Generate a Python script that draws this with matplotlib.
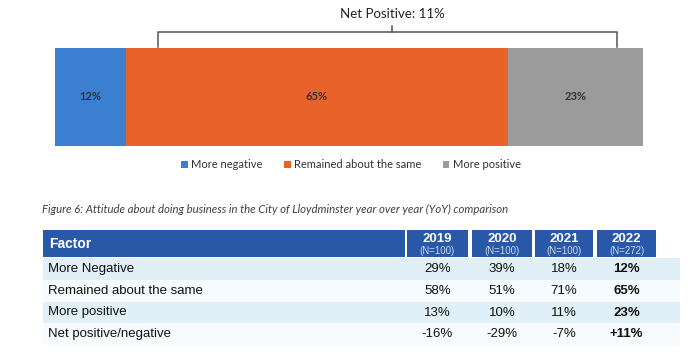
import numpy as np
import matplotlib
matplotlib.use("Agg")
import matplotlib.pyplot as plt
from matplotlib.patches import Rectangle, Patch
import matplotlib.transforms as mtransforms

# =========================
# data
# =========================
segments = ["More negative", "Remained about the same", "More positive"]
shares_2022 = [12, 65, 23]
seg_colors = ["#3b7fd1", "#e9622a", "#9b9b9b"]

years = ["2019", "2020", "2021", "2022"]
sample_sizes = ["(N=100)", "(N=100)", "(N=100)", "(N=272)"]
factors = ["More Negative", "Remained about the same", "More positive", "Net positive/negative"]
more_negative = [29, 39, 18, 12]
same = [58, 51, 71, 65]
more_positive = [13, 10, 11, 23]

caption = ("Figure 6: Attitude about doing business in the City of Lloydminster "
           "year over year (YoY) comparison")

W, H = 698, 357
fig = plt.figure(figsize=(W / 100, H / 100), dpi=100)


def px_rect(x0, y0, x1, y1):
    return [x0 / W, 1 - y1 / H, (x1 - x0) / W, (y1 - y0) / H]


# =========================
# table (pixel coordinates)
# =========================
ax_t = fig.add_axes([0, 0, 1, 1])
ax_t.set_xlim(0, W)
ax_t.set_ylim(H, 0)
ax_t.axis("off")

header_blue = "#2a58a8"
head_top, head_bot = 230, 257
factor_box = (43, 405)
year_boxes = [(407, 468), (472, 532), (535, 593), (597, 656)]
row_top, row_h = 258, 21.8
tfont = "Liberation Sans"

ax_t.add_patch(Rectangle((factor_box[0], head_top), factor_box[1] - factor_box[0],
                         head_bot - head_top, color=header_blue, lw=0))
ax_t.text(49, (head_top + head_bot) / 2 + 0.5, "Factor", color="white", fontsize=10,
          fontweight="bold", family=tfont, va="center", ha="left")
for (x0, x1), yr, n in zip(year_boxes, years, sample_sizes):
    ax_t.add_patch(Rectangle((x0, head_top), x1 - x0, head_bot - head_top,
                             color=header_blue, lw=0))
    xc = (x0 + x1) / 2
    ax_t.text(xc, 238.5, yr, color="white", fontsize=9.5, fontweight="bold",
              family=tfont, ha="center", va="center")
    ax_t.text(xc, 251, n, color="#c9d8f0", fontsize=7, family=tfont,
              ha="center", va="center")

net = [p - n for p, n in zip(more_positive, more_negative)]
rows = [more_negative, same, more_positive, net]
for i, (name, vals) in enumerate(zip(factors, rows)):
    y0 = row_top + i * row_h
    shade = "#e0eff8" if i % 2 == 0 else "#f7fbfd"
    ax_t.add_patch(Rectangle((43, y0), 680 - 43, row_h, color=shade, lw=0))
    yc = y0 + row_h / 2
    ax_t.text(48, yc, name, color="#111111", fontsize=9.5, family=tfont,
              ha="left", va="center")
    for j, ((x0, x1), v) in enumerate(zip(year_boxes, vals)):
        if i == 3:
            s = f"+{v}%" if (v > 0 and j == 3) else f"{v}%"
        else:
            s = f"{v}%"
        ax_t.text((x0 + x1) / 2, yc, s, color="#111111", fontsize=9.5, family=tfont,
                  ha="center", va="center",
                  fontweight="bold" if j == 3 else "normal")

ax_t.text(42, 209, caption, fontsize=8.2, style="italic", family="Lato",
          color="#404040", ha="left", va="center")

# =========================
# stacked bar (2022)
# =========================
ax_b = fig.add_axes(px_rect(55, 48, 643, 146))
lefts = np.concatenate([[0], np.cumsum(shares_2022)[:-1]])
ax_b.barh(0, shares_2022, left=lefts, height=1, color=seg_colors, lw=0)
ax_b.set_xlim(0, 100)
ax_b.set_ylim(-0.5, 0.5)
ax_b.axis("off")
for l, s in zip(lefts, shares_2022):
    ax_b.text(l + s / 2, 0, f"{s}%", fontsize=8, fontweight="bold", family="Lato",
              color="#333333", ha="center", va="center")

# bracket for net positive
tr = mtransforms.blended_transform_factory(ax_b.transData, ax_b.transAxes)
bx0, bx1, bxc = 17.5, 95.6, 57.3
ax_b.plot([bx0, bx0, bx1, bx1], [1.01, 1.163, 1.163, 1.01], color="#555555",
          lw=1.1, transform=tr, clip_on=False)
ax_b.plot([bxc, bxc], [1.163, 1.22], color="#555555", lw=1.1, transform=tr,
          clip_on=False)
net_2022 = shares_2022[2] - shares_2022[0]
ax_b.text(bxc, 1.345, f"Net Positive: {net_2022}%", fontsize=9.5, family="Lato",
          color="#222222", ha="center", va="center", transform=tr)

handles = [Patch(color=c, lw=0) for c in seg_colors]
fig.legend(handles, segments, loc="center", bbox_to_anchor=(0.503, 1 - 165 / H),
           ncol=3, frameon=False, handlelength=0.6, handleheight=0.6,
           handletextpad=0.35, columnspacing=1.9,
           prop={"family": "Lato", "size": 8}, labelcolor="#333333")

fig.savefig("out.png", dpi=100)
